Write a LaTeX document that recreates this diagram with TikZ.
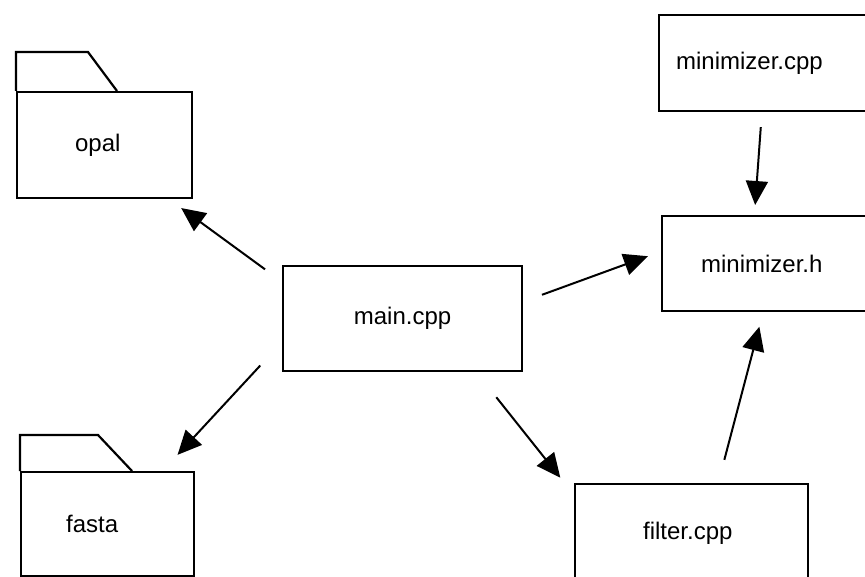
\documentclass[tikz,border=0pt]{standalone}
\usepackage{fontspec}
\setmainfont{Liberation Sans}
\usetikzlibrary{arrows.meta}
\begin{document}
\begin{tikzpicture}[x=1pt,y=-1pt]
\tikzset{
  filebox/.style={draw, line width=2.2pt, anchor=north west, align=left,
    inner ysep=0pt, font=\fontsize{24}{28}\selectfont},
  dep/.style={line width=2pt, -{Triangle[length=24pt,width=22pt]}}
}
\clip (0,0) rectangle (865,577);
% packages
\node[filebox, text width=59pt, inner xsep=58pt, minimum height=106pt] (opal) at (16,91) {opal};
\draw[line width=2.2pt] (opal.north west) -- ++(0,-39) -- ++(72,0) -- ++(29,39);
\node[filebox, text width=83pt, inner xsep=45pt, minimum height=104pt] (fasta) at (20,471) {fasta};
\draw[line width=2.2pt] (fasta.north west) -- ++(0,-36) -- ++(78,0) -- ++(34,36);
% source files
\node[filebox, align=center, minimum width=239pt, minimum height=105pt] (main) at (282,265) {main.cpp};
\node[filebox, text width=196pt, inner xsep=17pt, minimum height=96pt] (mincpp) at (658,14) {minimizer.cpp};
\node[filebox, text width=152pt, inner xsep=39pt, minimum height=95pt] (minh) at (661,215) {minimizer.h};
\node[filebox, text width=97pt, inner xsep=68pt, minimum height=98pt] (filter) at (574,483) {filter.cpp};
% dependencies
\draw[dep, shorten <=21pt, shorten >=15pt] (main.163.7) -- (opal.-40.3);
\draw[dep, shorten <=32pt, shorten >=22pt] (main.191.6) -- (fasta.44.2);
\draw[dep, shorten <=20pt, shorten >=14pt] (main.8.3) -- (minh.174);
\draw[dep, shorten <=32pt, shorten >=22pt] (main.-36.3) -- (filter.162.4);
\draw[dep, shorten <=15pt, shorten >=10pt] (mincpp.-104) -- (minh.115.6);
\draw[dep, shorten <=24pt, shorten >=15pt] (filter.62.5) -- (minh.-106.4);
\end{tikzpicture}
\end{document}
